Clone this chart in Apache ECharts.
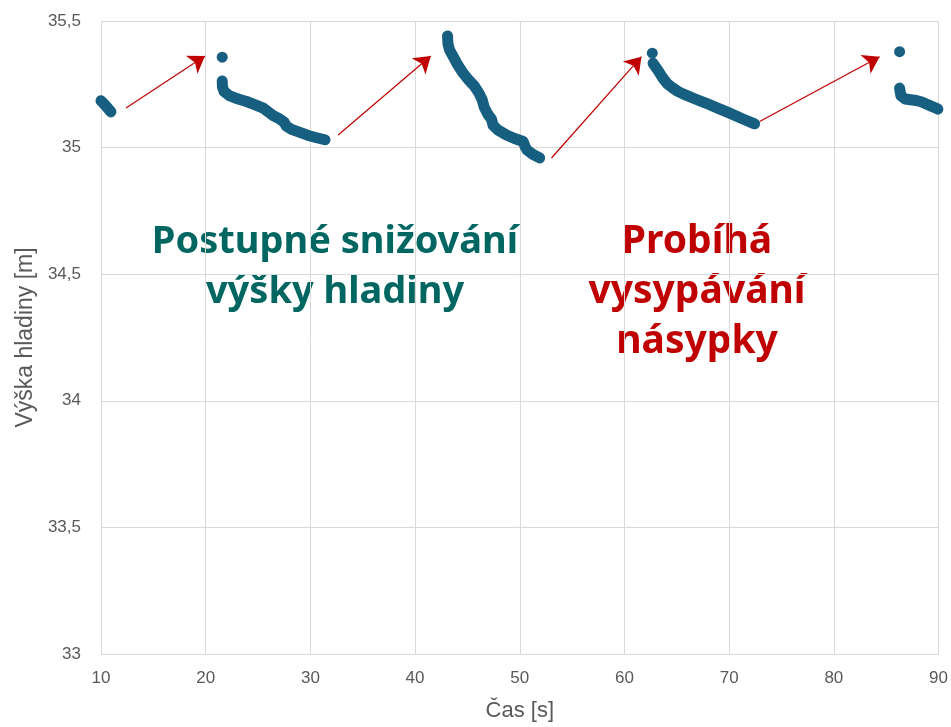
<!DOCTYPE html>
<html>
<head>
<meta charset="utf-8">
<script src="https://cdn.jsdelivr.net/npm/echarts@6/dist/echarts.min.js"></script>
<style>
  html, body { margin: 0; padding: 0; background: #fff; }
  #chart { width: 951px; height: 727px; }
</style>
</head>
<body>
<div id="chart"></div>
<script>
var seg1 = [[10.0, 35.185], [10.5, 35.163], [10.95, 35.141]];
var seg2 = [[21.58, 35.263], [21.6, 35.24], [21.75, 35.222], [22.3, 35.204], [23.1, 35.192], [23.9, 35.182],
  [24.8, 35.168], [25.5, 35.156], [26.0, 35.14], [26.5, 35.125], [27.1, 35.112], [27.5, 35.1],
  [27.7, 35.085], [28.2, 35.072], [29.0, 35.06], [29.8, 35.048], [30.6, 35.039], [31.4, 35.031]];
var seg3 = [[43.1, 35.441], [43.14, 35.41], [43.3, 35.385], [43.63, 35.36], [44.1, 35.325],
  [44.59, 35.294], [45.1, 35.268], [45.7, 35.241], [46.1, 35.215], [46.4, 35.19],
  [46.6, 35.16], [46.9, 35.135], [47.3, 35.112], [47.45, 35.088], [47.9, 35.07],
  [48.73, 35.05], [49.5, 35.036], [50.32, 35.024], [50.5, 35.005], [50.7, 34.99],
  [51.3, 34.972], [51.9, 34.959]];
var seg4 = [[62.73, 35.333], [63.2, 35.305], [63.68, 35.274], [64.1, 35.252], [64.64, 35.235],
  [65.1, 35.222], [65.59, 35.212], [66.7, 35.193], [67.82, 35.175], [68.9, 35.156],
  [70.05, 35.136], [71.2, 35.115], [72.43, 35.094]];
var seg5 = [[86.28, 35.235], [86.4, 35.205], [86.8, 35.192], [87.87, 35.186], [88.4, 35.18],
  [88.83, 35.172], [89.4, 35.162], [89.93, 35.152]];
// lone first readings after each refill
var peaks = [[21.58, 35.357], [62.66, 35.373], [86.28, 35.379]];
// red arrows, [start, end]
var arrows = [
  [[12.39, 35.156], [19.93, 35.362]],
  [[32.65, 35.05], [41.5, 35.362]],
  [[53.03, 34.959], [61.62, 35.359]],
  [[72.91, 35.103], [84.37, 35.359]]
];
var xTicks = { min: 10, max: 90, step: 10 };
var yTicks = { min: 33, max: 35.5, step: 0.5 };

var blue = '#175f80';
var myChart = echarts.init(document.getElementById('chart'));

var segSeries = [seg1, seg2, seg3, seg4, seg5].map(function (s) {
  return {
    type: 'line',
    data: s,
    showSymbol: false,
    symbol: 'none',
    silent: true,
    lineStyle: { color: blue, width: 11, cap: 'round', join: 'round', opacity: 1 }
  };
});

var option = {
  animation: false,
  grid: { left: 101, right: 11, top: 21, bottom: 72 },
  xAxis: {
    type: 'value',
    min: xTicks.min, max: xTicks.max, interval: xTicks.step,
    name: 'Čas [s]',
    nameLocation: 'middle',
    nameGap: 46,
    nameTextStyle: { fontFamily: 'Liberation Sans', fontSize: 22, color: '#595959' },
    axisLine: { lineStyle: { color: '#d9d9d9' } },
    axisTick: { show: false },
    axisLabel: { margin: 16, fontFamily: 'Liberation Sans', fontSize: 17, color: '#595959' },
    splitLine: { lineStyle: { color: '#d9d9d9' } }
  },
  yAxis: {
    type: 'value',
    min: yTicks.min, max: yTicks.max, interval: yTicks.step,
    name: 'Výška hladiny [m]',
    nameLocation: 'middle',
    nameRotate: 90,
    nameGap: 59,
    nameTextStyle: { fontFamily: 'Liberation Sans', fontSize: 23, color: '#595959' },
    axisLine: { show: true, lineStyle: { color: '#d9d9d9' } },
    axisTick: { show: false },
    axisLabel: {
      margin: 20, fontFamily: 'Liberation Sans', fontSize: 17, color: '#595959',
      formatter: function (v) { return String(v).replace('.', ','); }
    },
    splitLine: { lineStyle: { color: '#d9d9d9' } }
  },
  graphic: [
    {
      type: 'text', x: 335, y: 267,
      style: {
        text: 'Postupné snižování\nvýšky hladiny',
        fill: '#006661', font: 'bold 38px "Noto Sans"', lineHeight: 50,
        textAlign: 'center', textVerticalAlign: 'middle'
      }
    },
    {
      type: 'text', x: 697, y: 292,
      style: {
        text: 'Probíhá\nvysypávání\nnásypky',
        fill: '#c00000', font: 'bold 39px "Noto Sans"', lineHeight: 50,
        textAlign: 'center', textVerticalAlign: 'middle'
      }
    }
  ],
  series: segSeries.concat([
    {
      type: 'scatter',
      data: peaks,
      symbolSize: 11,
      silent: true,
      itemStyle: { color: blue, opacity: 1 }
    },
    {
      type: 'lines',
      coordinateSystem: 'cartesian2d',
      silent: true,
      symbol: ['none', 'arrow'],
      symbolSize: [0, 16],
      lineStyle: { color: '#c00000', width: 1.2, opacity: 1 },
      data: arrows.map(function (a) { return { coords: a }; })
    }
  ])
};

myChart.setOption(option);
</script>
</body>
</html>
